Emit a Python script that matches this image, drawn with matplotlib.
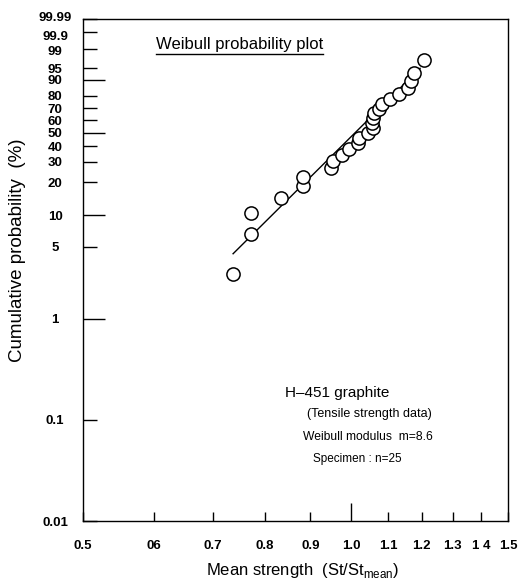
#!/usr/bin/env python3
"""Weibull probability plot, H-451 graphite tensile strength data."""

import matplotlib

matplotlib.use("Agg")

import matplotlib.pyplot as plt
import matplotlib.transforms as mtrans
import numpy as np
from matplotlib.lines import Line2D
from matplotlib.ticker import FixedLocator, NullLocator

plt.rcParams["font.family"] = ["Liberation Sans", "DejaVu Sans"]
plt.rcParams["mathtext.fontset"] = "custom"
plt.rcParams["mathtext.rm"] = "Liberation Sans"

# normalised strength St/Stmean, ranked
strength = [0.737, 0.771, 0.771, 0.834, 0.884, 0.884, 0.949, 0.955, 0.976,
            0.994, 1.018, 1.020, 1.045, 1.057, 1.056, 1.057, 1.061, 1.074,
            1.082, 1.107, 1.132, 1.159, 1.168, 1.177, 1.208]
# cumulative probability (%), median ranks
cum_prob = [2.76, 6.69, 10.63, 14.57, 18.50, 22.44, 26.38, 30.31, 34.25,
            38.19, 42.13, 46.06, 50.00, 53.94, 57.87, 61.81, 65.75, 69.69,
            73.62, 77.56, 81.50, 85.43, 89.37, 93.31, 97.24]

# fitted Weibull line (m = 8.6), end points
fit_x = [0.737, 1.195]
fit_p = [4.3, 95.0]

y_ticks = [0.01, 0.1, 1, 5, 10, 20, 30, 40, 50, 60, 70, 80, 90, 95, 99, 99.9, 99.99]
y_labels = ["0.01", "0.1", "1", "5", "10", "20", "30", "40", "50", "60", "70",
            "80", "90", "95", "99", "99.9", "99.99"]
y_long = [1, 10, 50, 90]

x_ticks = [0.5, 0.6, 0.7, 0.8, 0.9, 1.0, 1.1, 1.2, 1.3, 1.4, 1.5]
x_labels = ["0.5", "06", "0.7", "0.8", "0.9", "1.0", "1.1", "1.2", "1.3", "1 4", "1.5"]


def weib_fwd(p):
    p = np.clip(np.asarray(p, dtype=float), 1e-9, 100 - 1e-9)
    return np.log(-np.log(1 - p / 100.0))


def weib_inv(w):
    return 100.0 * (1 - np.exp(-np.exp(np.asarray(w, dtype=float))))


W, H = 522, 580
fig = plt.figure(figsize=(W / 100, H / 100), dpi=100)
ax = fig.add_axes([83 / W, 59 / H, 425 / W, 502 / H])

ax.set_xscale("log")
ax.set_yscale("function", functions=(weib_fwd, weib_inv))
ax.set_xlim(0.5, 1.5)
ax.set_ylim(0.01, 99.99)

ax.plot(fit_x, fit_p, color="black", lw=1.0, zorder=2)
ax.plot(strength, cum_prob, ls="none", marker="o", ms=9.5, mfc="white",
        mec="black", mew=1.1, zorder=3)

for sp in ax.spines.values():
    sp.set_linewidth(1.0)

# y axis
ax.yaxis.set_major_locator(FixedLocator(y_ticks))
ax.yaxis.set_minor_locator(NullLocator())
ax.set_yticklabels(y_labels)
ax.tick_params(axis="y", direction="in", length=10, width=1.0, pad=20,
               labelsize=9.5)
# nudge the crowded top labels apart (points)
y_nudge = {99.99: 1.5, 99.9: -2.5, 99: -1.0}
for t, v in zip(ax.yaxis.get_major_ticks(), y_ticks):
    t.tick1line.set_markersize(16 if v in y_long else 10)
    t.label1.set_horizontalalignment("center")
    t.label1.set_fontweight("bold")
    if v in y_nudge:
        off = mtrans.ScaledTranslation(0, y_nudge[v] / 72, fig.dpi_scale_trans)
        t.label1.set_transform(t.label1.get_transform() + off)

# x axis
ax.xaxis.set_major_locator(FixedLocator(x_ticks))
ax.xaxis.set_minor_locator(NullLocator())
ax.set_xticklabels(x_labels)
ax.tick_params(axis="x", direction="in", length=6.5, width=1.0, pad=14,
               labelsize=9.5)
for t, v in zip(ax.xaxis.get_major_ticks(), x_ticks):
    if v == 1.0:
        t.tick1line.set_markersize(13)
    t.label1.set_fontweight("bold")

fig.text(18 / W, 1 - 250 / H, "Cumulative probability  (%)", rotation=90,
         ha="center", va="center", fontsize=13.5)
fig.text(303 / W, 1 - 571 / H, r"Mean strength  (St/St$_{\mathrm{mean}}$)",
         ha="center", va="center", fontsize=12)

title = fig.text(156 / W, 1 - 45 / H, "Weibull probability plot",
                 ha="left", va="center", fontsize=12)

fig.text(285 / W, 1 - 393 / H, "H\u2013451 graphite", ha="left", va="center",
         fontsize=11)
fig.text(307 / W, 1 - 414 / H, "(Tensile strength data)", ha="left",
         va="center", fontsize=9)
fig.text(303 / W, 1 - 437 / H, "Weibull modulus  m=8.6", ha="left",
         va="center", fontsize=8.7)
fig.text(313 / W, 1 - 459 / H, "Specimen : n=25", ha="left", va="center",
         fontsize=8.5)

# underline the title
fig.canvas.draw()
bb = title.get_window_extent().transformed(fig.transFigure.inverted())
fig.add_artist(Line2D([bb.x0, bb.x1], [bb.y0 - 0.002, bb.y0 - 0.002],
                      transform=fig.transFigure, color="black", lw=1.0))

fig.savefig("out.png", dpi=100)
